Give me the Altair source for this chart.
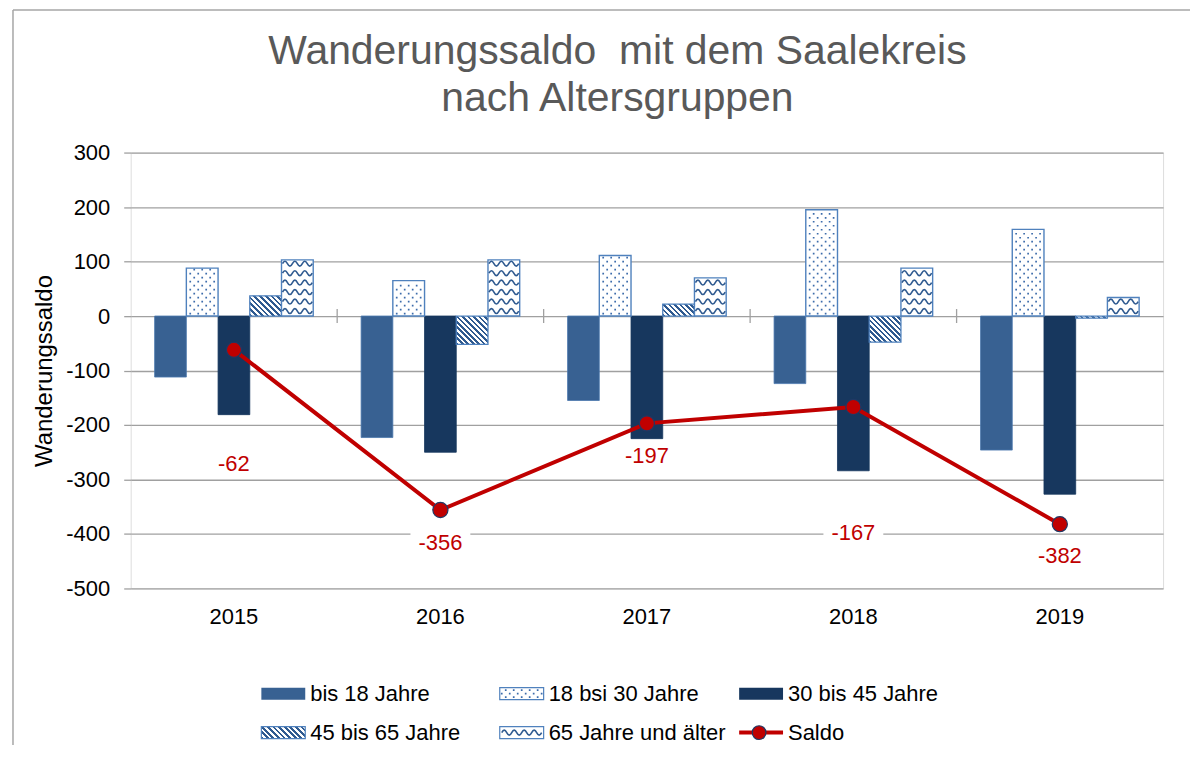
import altair as alt
import pandas as pd

# ---------------- data ----------------
years = ["2015", "2016", "2017", "2018", "2019"]
series = ["bis 18 Jahre", "18 bsi 30 Jahre", "30 bis 45 Jahre",
          "45 bis 65 Jahre", "65 Jahre und älter"]
bis_18 = [-112, -223, -155, -124, -246]
von_18_30 = [88, 65, 111, 195, 159]
von_30_45 = [-181, -250, -225, -284, -327]
von_45_65 = [37, -52, 22, -48, -4]
ab_65 = [103, 103, 70, 88, 34]
saldo = [-62, -356, -197, -167, -382]
y_ticks = [-500, -400, -300, -200, -100, 0, 100, 200, 300]
title_lines = ["Wanderungssaldo\u00a0 mit dem Saalekreis", "nach Altersgruppen"]
y_title = "Wanderungssaldo"
line_name = "Saldo"

# ---------------- style / layout ----------------
FONT = "Liberation Sans"
W, H = 1035, 437
Y_MIN, Y_MAX = -500, 300
PX = H / (Y_MAX - Y_MIN)
PAD_OUT = 0.755
BAR_W = (W / len(years)) / (len(series) + 2 * PAD_OUT)
C_BIS18 = "#386192"
C_3045 = "#17375e"
C_EDGE = "#4f81bd"
C_PAT = "#2f5a90"
C_DOT = "#3d6cab"
C_RED = "#c00000"
C_GRID = "#a0a0a0"
LABEL_DY = [114, 33, 33, 126, 32]          # label offsets below the points (px)
LEG_X = [131, 370, 610]                    # legend columns (px from plot left)
LEG_Y = [542.5, 581.5]                     # legend rows (px from plot top)
SYM_W, SYM_H, TXT_DX = 44, 12, 49
TITLE_X, TITLE_Y = 488, [-101, -54]        # title line centres (px from plot origin)


def wave_path(periods, amp=0.33):
    half = 2.0 / (2 * periods)
    p = f"M-1,0Q{-1 + half / 2:.4f},{-amp:.3f},{-1 + half:.4f},0"
    x = -1 + half
    for _ in range(2 * periods - 1):
        x += half
        p += f"T{x:.4f},0"
    return p


def dots_path(offsets_px, half_px, dot_px=1.7):
    r = dot_px / 2 / half_px
    parts = []
    for o in offsets_px:
        c = o / half_px
        parts.append(f"M{c - r:.4f},{-r:.4f}h{2 * r:.4f}v{2 * r:.4f}h{-2 * r:.4f}z")
    return "".join(parts)


HALF = 16
WAVE3 = wave_path(3)
WAVE4 = wave_path(4, 0.25)
DOTS_A = dots_path([-12, -4, 4, 12], HALF)
DOTS_B = dots_path([-8, 0, 8], HALF)
LDOTS_A = dots_path([-16, -8, 0, 8, 16], 22)
LDOTS_B = dots_path([-20, -12, -4, 4, 12, 20], 22)

values = [bis_18, von_18_30, von_30_45, von_45_65, ab_65]
bars = pd.DataFrame([
    {"year": yr, "series": s, "value": vals[i]}
    for s, vals in zip(series, values) for i, yr in enumerate(years)
])
line_df = pd.DataFrame({"year": years, "saldo": saldo,
                        "lbl": [str(v) for v in saldo]})

xscale = alt.Scale(type="band", domain=years, paddingInner=0, paddingOuter=0)
xoscale = alt.Scale(type="band", domain=series, paddingInner=0, paddingOuter=PAD_OUT)
yscale = alt.Scale(domain=[Y_MIN, Y_MAX], nice=False, zero=False)

X_AXIS = alt.Axis(
    title=None, labelFontSize=22, labelColor="black", labelFont=FONT,
    ticks=False, tickSize=0, domain=False, grid=False, labelAngle=0,
    labelPadding=28, labelBaseline="middle")
Y_AXIS = alt.Axis(
    values=y_ticks, title=y_title, titleFontSize=24, titleFontWeight="normal",
    titleColor="black", titleFont=FONT, titleAngle=270, titleX=-86, titleY=H / 2,
    titleAlign="center", titleBaseline="middle",
    labelFontSize=22, labelColor="black", labelFont=FONT, labelPadding=14,
    tickSize=7, tickColor=C_GRID, tickWidth=1.3, domain=False,
    grid=True, gridColor=C_GRID, gridWidth=1.3,
    labelExpr="toString(datum.value)")


def X_(band_pos=None):
    if band_pos is None:
        return alt.X("year:N", scale=xscale, axis=X_AXIS)
    return alt.X("year:N", scale=xscale, axis=X_AXIS, bandPosition=band_pos)


def Y_(field="value"):
    return alt.Y(f"{field}:Q", scale=yscale, axis=Y_AXIS, title=y_title)


XO_ = alt.XOffset("series:N", scale=xoscale)
one = pd.DataFrame({"k": [0]})


def stripe_gradient(w, h, period=5.5, dark=C_PAT):
    a = w / (w + h)
    b = -h / (w + h)
    n2 = a * a + b * b
    gx, gy = a / n2, b / n2
    n = max(1, round((w + h) / period))
    stops = []
    for k in range(n):
        s0, s1, s2 = k / n, (k + 0.5) / n, (k + 1) / n
        stops += [alt.GradientStop(offset=s0, color=dark),
                  alt.GradientStop(offset=s1, color=dark),
                  alt.GradientStop(offset=s1, color="white"),
                  alt.GradientStop(offset=s2, color="white")]
    return alt.LinearGradient(gradient="linear", stops=stops,
                              x1=0, y1=1, x2=gx, y2=1 + gy)


layers = []

# solid bars (carry the axes)
solid = bars[bars.series.isin([series[0], series[2]])]
layers.append(
    alt.Chart(solid).mark_bar(strokeWidth=0.8).encode(
        x=X_(), xOffset=XO_, y=Y_(),
        color=alt.Color("series:N", scale=alt.Scale(domain=[series[0], series[2]],
                                                   range=[C_BIS18, C_3045]), legend=None),
        stroke=alt.Stroke("series:N", scale=alt.Scale(domain=[series[0], series[2]],
                                                     range=["#4a77ad", C_3045]), legend=None),
    )
)

# white boxes behind the data labels
for i, yr in enumerate(years):
    hw = (22 * (0.333 + 0.556 * (len(str(saldo[i])) - 1)) + 16) / 2
    shape = f"M-1,{-15 / hw:.4f}H1V{15 / hw:.4f}H-1Z"
    layers.append(
        alt.Chart(line_df[line_df.year == yr]).mark_point(
            shape=shape, size=(hw * 2) ** 2, filled=True, color="white",
            opacity=1, yOffset=LABEL_DY[i]
        ).encode(x=X_(), y=Y_("saldo"))
    )

# dotted bars (18 - 30)
layers.append(
    alt.Chart(bars[bars.series == series[1]]).mark_bar(
        fill="white", stroke=C_EDGE, strokeWidth=1.4).encode(x=X_(), xOffset=XO_, y=Y_())
)
dot_rows = []
for i, yr in enumerate(years):
    v = von_18_30[i]
    hpx = abs(v) * PX
    sgn = 1 if v >= 0 else -1
    ypx, k = 2.5, 0
    while ypx < hpx - 1.5:
        dot_rows.append({"year": yr, "series": series[1], "value": sgn * ypx / PX,
                         "pat": "a" if k % 2 == 0 else "b"})
        ypx += 4
        k += 1
layers.append(
    alt.Chart(pd.DataFrame(dot_rows)).mark_point(
        filled=True, color=C_DOT, opacity=1, size=(2 * HALF) ** 2).encode(
        x=X_(), xOffset=XO_, y=Y_(),
        shape=alt.Shape("pat:N", scale=alt.Scale(domain=["a", "b"],
                                                 range=[DOTS_A, DOTS_B]), legend=None))
)

# striped bars (45 - 65)
for i, yr in enumerate(years):
    v = von_45_65[i]
    h = max(abs(v) * PX, 1.0)
    layers.append(
        alt.Chart(pd.DataFrame({"year": [yr], "series": [series[3]], "value": [v]}))
        .mark_bar(fill=stripe_gradient(BAR_W, h), stroke=C_EDGE, strokeWidth=1.3)
        .encode(x=X_(), xOffset=XO_, y=Y_())
    )

# wavy bars (65+)
layers.append(
    alt.Chart(bars[bars.series == series[4]]).mark_bar(
        fill="white", stroke=C_EDGE, strokeWidth=1.4).encode(x=X_(), xOffset=XO_, y=Y_())
)
wave_rows = []
for i, yr in enumerate(years):
    v = ab_65[i]
    hpx = abs(v) * PX
    sgn = 1 if v >= 0 else -1
    ypx = 5
    while ypx < hpx - 3.5:
        wave_rows.append({"year": yr, "series": series[4], "value": sgn * ypx / PX})
        ypx += 9.5
layers.append(
    alt.Chart(pd.DataFrame(wave_rows)).mark_point(
        shape=WAVE3, size=(BAR_W - 2) ** 2, filled=False, color=C_PAT,
        strokeWidth=1.6, opacity=1).encode(x=X_(), xOffset=XO_, y=Y_())
)

# cross ticks on the zero line at the category boundaries
layers.append(
    alt.Chart(pd.DataFrame({"year": years[1:]})).mark_rule(
        color=C_GRID, strokeWidth=1.3).encode(
        x=X_(0), y=alt.datum(-7 / PX), y2=alt.datum(7 / PX))
)

# Saldo line + markers + labels
layers.append(
    alt.Chart(line_df).mark_line(color=C_RED, strokeWidth=4).encode(
        x=X_(), y=Y_("saldo"))
)
layers.append(
    alt.Chart(line_df).mark_point(
        filled=True, size=230, fill=C_RED, stroke="#1f3864", strokeWidth=1.2,
        opacity=1).encode(x=X_(), y=Y_("saldo"))
)
for i, yr in enumerate(years):
    layers.append(
        alt.Chart(line_df[line_df.year == yr]).mark_text(
            color=C_RED, fontSize=22, font=FONT, baseline="middle", align="center",
            yOffset=LABEL_DY[i]).encode(x=X_(), y=Y_("saldo"), text="lbl:N")
    )

# ---------------- title (drawn as text above the plot) ----------------
for line, ty in zip(title_lines, TITLE_Y):
    layers.append(alt.Chart(one).mark_text(
        text=line, font=FONT, fontSize=41, color="#595959", baseline="middle",
        align="center").encode(x=alt.value(TITLE_X), y=alt.value(ty)))

# ---------------- legend (drawn by hand, below the plot) ----------------
for idx, name in enumerate(series + [line_name]):
    col, row = idx % 3, idx // 3
    x0, yc = LEG_X[col], LEG_Y[row]
    if idx in (0, 2):
        layers.append(alt.Chart(one).mark_rect(
            fill=C_BIS18 if idx == 0 else C_3045).encode(
            x=alt.value(x0), x2=alt.value(x0 + SYM_W),
            y=alt.value(yc - SYM_H / 2), y2=alt.value(yc + SYM_H / 2)))
    elif idx == 3:
        layers.append(alt.Chart(one).mark_rect(
            fill=stripe_gradient(SYM_W, SYM_H), stroke=C_EDGE, strokeWidth=1.2).encode(
            x=alt.value(x0), x2=alt.value(x0 + SYM_W),
            y=alt.value(yc - SYM_H / 2), y2=alt.value(yc + SYM_H / 2)))
    elif idx in (1, 4):
        layers.append(alt.Chart(one).mark_rect(
            fill="white", stroke=C_EDGE, strokeWidth=1.2).encode(
            x=alt.value(x0), x2=alt.value(x0 + SYM_W),
            y=alt.value(yc - SYM_H / 2), y2=alt.value(yc + SYM_H / 2)))
        if idx == 1:
            for r, dy in enumerate([-3.5, 0, 3.5]):
                layers.append(alt.Chart(one).mark_point(
                    shape=LDOTS_A if r % 2 == 0 else LDOTS_B, size=44 ** 2,
                    filled=True, color=C_DOT, opacity=1).encode(
                    x=alt.value(x0 + SYM_W / 2), y=alt.value(yc + dy)))
        else:
            layers.append(alt.Chart(one).mark_point(
                shape=WAVE4, size=(SYM_W - 4) ** 2, filled=False, color=C_PAT,
                strokeWidth=1.6, opacity=1).encode(
                x=alt.value(x0 + SYM_W / 2), y=alt.value(yc)))
    else:
        layers.append(alt.Chart(one).mark_rule(color=C_RED, strokeWidth=4).encode(
            x=alt.value(x0), x2=alt.value(x0 + SYM_W), y=alt.value(yc)))
        layers.append(alt.Chart(one).mark_point(
            filled=True, size=190, fill=C_RED, stroke="#1f3864", strokeWidth=1.2,
            opacity=1).encode(x=alt.value(x0 + 20), y=alt.value(yc)))
    layers.append(alt.Chart(one).mark_text(
        text=name, font=FONT, fontSize=22, color="black", baseline="middle",
        align="left").encode(x=alt.value(x0 + TXT_DX), y=alt.value(yc)))

# outer frame (left and top edges)
layers.append(alt.Chart(one).mark_rule(color="#a6a6a6", strokeWidth=1.5).encode(
    x=alt.value(-118), y=alt.value(-143), y2=alt.value(594)))
layers.append(alt.Chart(one).mark_rule(color="#a6a6a6", strokeWidth=1.5).encode(
    x=alt.value(-118), x2=alt.value(1062), y=alt.value(-143)))

chart = alt.layer(*layers).properties(
    width=W, height=H,
    padding={"left": 4, "top": 0, "right": 0, "bottom": 0},
).configure_view(stroke=C_GRID, strokeWidth=1.3).configure(font=FONT)

chart.save("out.html", embed_options={"renderer": "svg", "actions": False})
